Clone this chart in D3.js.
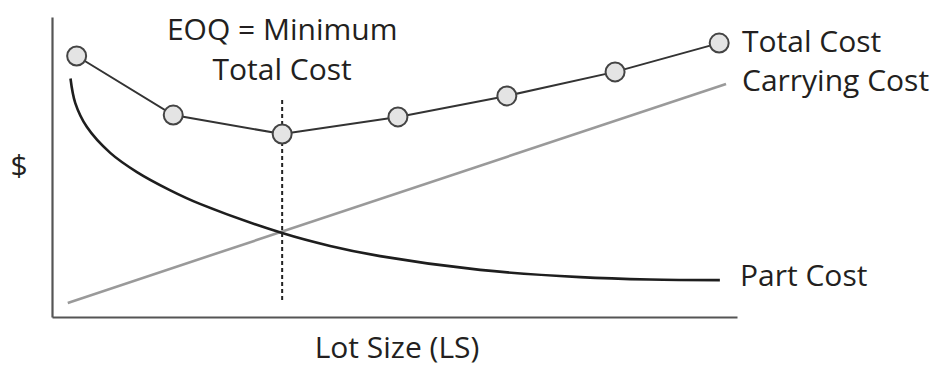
<!DOCTYPE html>
<html>
<head>
<meta charset="utf-8">
<script src="https://cdn.jsdelivr.net/npm/d3@7"></script>
<style>
  html, body { margin: 0; padding: 0; background: #fff; }
  svg { display: block; }
  text { font-family: "Open Sans", "Noto Sans", sans-serif; fill: #231f20; }
</style>
</head>
<body>
<svg id="chart" width="934" height="369"></svg>
<script>
// Lot size (x) and cost (y) in arbitrary units, 0–100 on both axes.
const totalLot  = [3.6, 17.7, 33.6, 50.5, 66.4, 82.2, 97.4];
const totalCost = [87.0, 67.3, 61.0, 66.7, 73.7, 81.7, 91.3];

const carryLot  = [2.3, 98.4];
const carryCost = [4.7, 77.7];

const partLot  = [2.7, 3.4, 5.1, 8.5, 12.4, 17.2, 21.6, 33.6, 40.6, 47.9, 62.5, 77.1, 87.3, 97.5];
const partCost = [79.5, 71.3, 63.3, 54.7, 48.3, 42.3, 37.7, 28.0, 23.7, 20.3, 15.7, 13.3, 12.5, 12.3];

const eoqLot = 33.6;
const eoqRange = [5.0, 72.3];

const svg = d3.select("#chart");
const x = d3.scaleLinear().domain([0, 100]).range([52, 737]);
const y = d3.scaleLinear().domain([0, 100]).range([317, 17]);

const zip = (a, b) => a.map((v, i) => [v, b[i]]);
const straight = d3.line().x(d => x(d[0])).y(d => y(d[1]));
const smooth = d3.line().x(d => x(d[0])).y(d => y(d[1])).curve(d3.curveCatmullRom.alpha(0.5));

// Axes: plain L-shaped frame, no ticks
svg.append("g")
  .attr("transform", `translate(0,${y(0)})`)
  .call(d3.axisBottom(x).ticks(0).tickSizeOuter(0))
  .call(g => g.select(".domain").attr("stroke", "#555").attr("stroke-width", 2.2));
svg.append("g")
  .attr("transform", `translate(${x(0)},0)`)
  .call(d3.axisLeft(y).ticks(0).tickSizeOuter(0))
  .call(g => g.select(".domain").attr("stroke", "#555").attr("stroke-width", 2.2));

// Carrying cost: straight rising line
svg.append("path")
  .datum(zip(carryLot, carryCost))
  .attr("d", straight)
  .attr("fill", "none")
  .attr("stroke", "#9a9a9a")
  .attr("stroke-width", 2.6);

// Part cost: falling curve
svg.append("path")
  .datum(zip(partLot, partCost))
  .attr("d", smooth)
  .attr("fill", "none")
  .attr("stroke", "#1e1e1e")
  .attr("stroke-width", 2.6);

// EOQ marker
svg.append("line")
  .attr("x1", x(eoqLot)).attr("x2", x(eoqLot))
  .attr("y1", y(eoqRange[1])).attr("y2", y(eoqRange[0]))
  .attr("stroke", "#222")
  .attr("stroke-width", 2)
  .attr("stroke-dasharray", "4,3");

// Total cost: polyline with circle markers
const totalPts = zip(totalLot, totalCost);
svg.append("path")
  .datum(totalPts)
  .attr("d", straight)
  .attr("fill", "none")
  .attr("stroke", "#333")
  .attr("stroke-width", 2);
svg.append("g")
  .selectAll("circle")
  .data(totalPts)
  .join("circle")
  .attr("cx", d => x(d[0]))
  .attr("cy", d => y(d[1]))
  .attr("r", 9.5)
  .attr("fill", "#e4e4e4")
  .attr("stroke", "#444")
  .attr("stroke-width", 2);

// Labels
const fs = 30;
const label = (tx, ty, s, anchor = "start") =>
  svg.append("text")
    .attr("x", tx).attr("y", ty)
    .attr("font-size", fs)
    .attr("text-anchor", anchor)
    .text(s);

label(742, 52, "Total Cost");
label(742, 91, "Carrying Cost");
label(740, 286, "Part Cost");
label(x(eoqLot), 40, "EOQ = Minimum", "middle");
label(x(eoqLot), 80, "Total Cost", "middle");
label(19, 176, "$", "middle");
label(397, 358, "Lot Size (LS)", "middle");
</script>
</body>
</html>
